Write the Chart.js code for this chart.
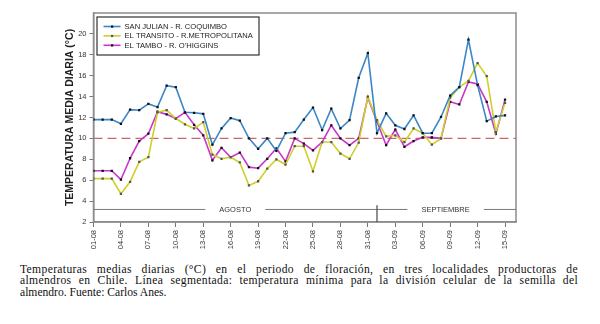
<!DOCTYPE html>
<html>
<head>
<meta charset="utf-8">
<script src="https://cdn.jsdelivr.net/npm/chart.js@4.4.1/dist/chart.umd.min.js"></script>
<style>
  body { margin: 0; background: #fff; width: 600px; height: 324px; overflow: hidden; }
  #wrap { position: relative; width: 600px; height: 258px; }
  .nota { position: absolute; left: 20px; top: 264px; width: 558px; font-family: "Liberation Serif", serif; font-size: 11.6px; line-height: 11.4px; color: #111; }
  .nota div { white-space: nowrap; }
  .nota .j { text-align: justify; text-align-last: justify; white-space: normal; letter-spacing: 0.35px; }
</style>
</head>
<body>
<div id="wrap"><canvas id="graf" width="600" height="258"></canvas></div>
<div class="nota">
  <div class="j">Temperaturas medias diarias (°C) en el periodo de floración, en tres localidades productoras de</div>
  <div class="j">almendros en Chile. Línea segmentada: temperatura mínima para la división celular de la semilla del</div>
  <div>almendro. Fuente: Carlos Anes.</div>
</div>
<script>
var fechas = ["01-08","02-08","03-08","04-08","05-08","06-08","07-08","08-08","09-08","10-08",
  "11-08","12-08","13-08","14-08","15-08","16-08","17-08","18-08","19-08","20-08",
  "21-08","22-08","23-08","24-08","25-08","26-08","27-08","28-08","29-08","30-08",
  "31-08","01-09","02-09","03-09","04-09","05-09","06-09","07-09","08-09","09-09",
  "10-09","11-09","12-09","13-09","14-09","15-09"];

var sanJulian = [11.8, 11.8, 11.8, 11.4, 12.75, 12.7, 13.3, 13.0, 15.05, 14.9,
  12.5, 12.45, 12.35, 9.4, 10.95, 11.95, 11.7, 10.0, 9.0, 10.0,
  8.8, 10.5, 10.6, 11.8, 12.95, 10.8, 12.85, 10.95, 11.75, 15.8,
  18.15, 10.5, 12.4, 11.25, 10.9, 12.2, 10.5, 10.5, 12.05, 14.1,
  14.9, 19.45, 15.1, 11.65, 12.1, 12.2];

var elTransito = [6.15, 6.15, 6.15, 4.7, 5.85, 7.75, 8.2, 12.5, 12.7, 11.9,
  11.35, 10.95, 11.55, 8.45, 8.05, 8.2, 7.7, 5.5, 5.9, 7.1,
  8.0, 7.5, 9.25, 9.25, 6.85, 9.65, 9.65, 8.55, 8.05, 9.6,
  14.0, 11.75, 10.2, 10.3, 9.65, 10.95, 10.5, 9.4, 10.0, 13.9,
  14.9, 15.5, 17.2, 15.95, 10.6, 13.4];

var elTambo = [6.9, 6.9, 6.9, 6.05, 8.1, 9.75, 10.45, 12.55, 12.3, 11.9,
  12.5, 11.3, 10.3, 7.9, 9.1, 8.2, 8.65, 7.25, 7.15, 8.05,
  9.05, 7.8, 10.0, 9.5, 8.85, 9.65, 11.25, 10.0, 9.35, 10.0,
  13.9, 11.6, 9.35, 10.85, 9.2, 9.75, 10.1, 10.1, 10.0, 13.5,
  13.25, 15.4, 15.2, 13.5, 10.45, 13.7];

var umbral = 10;                      // temperatura mínima para división celular
var meses = ["AGOSTO", "SEPTIEMBRE"];
var inicioMes = [0, 31];              // índice del primer día de cada mes

function puntos(serie) {
  return serie.map(function(v, i) { return { x: i, y: v }; });
}

function serie(label, datos, color, marca) {
  return {
    label: label,
    data: puntos(datos),
    borderColor: color,
    borderWidth: 1.6,
    tension: 0,
    pointStyle: 'rect',
    pointRadius: 1.6,
    pointBorderWidth: 0,
    pointBackgroundColor: marca
  };
}

var fuente = "'Liberation Sans', Arial, sans-serif";

// marco, línea de umbral y bandas de meses
var extras = {
  id: 'extras',
  beforeDatasetsDraw: function(chart) {
    var ctx = chart.ctx, ca = chart.chartArea;
    var sx = chart.scales.x, sy = chart.scales.y;
    ctx.save();
    ctx.strokeStyle = '#8c8c8c';
    ctx.lineWidth = 1.5;
    ctx.strokeRect(ca.left, ca.top, ca.right - ca.left, ca.bottom - ca.top);

    var yu = sy.getPixelForValue(umbral);
    ctx.strokeStyle = '#c96868';
    ctx.lineWidth = 1.2;
    ctx.setLineDash([9, 5]);
    ctx.beginPath();
    ctx.moveTo(ca.left, yu);
    ctx.lineTo(ca.right, yu);
    ctx.stroke();
    ctx.setLineDash([]);

    // nombres de mes sobre una línea con huecos
    var ym = sy.getPixelForValue(3.2);
    ctx.font = '7.5px ' + fuente;
    ctx.textAlign = 'center';
    ctx.textBaseline = 'middle';
    ctx.fillStyle = '#333';
    ctx.strokeStyle = '#7a7a7a';
    ctx.lineWidth = 1;
    var x = ca.left;
    meses.forEach(function(m, i) {
      var fin = i + 1 < inicioMes.length ? inicioMes[i + 1] : fechas.length;
      var xc = sx.getPixelForValue((inicioMes[i] + fin) / 2);
      var hw = ctx.measureText(m).width / 2 + 14;
      ctx.beginPath();
      ctx.moveTo(x, ym);
      ctx.lineTo(xc - hw, ym);
      ctx.stroke();
      ctx.fillText(m, xc, ym);
      x = xc + hw;
    });
    ctx.beginPath();
    ctx.moveTo(x, ym);
    ctx.lineTo(ca.right, ym);
    ctx.stroke();

    ctx.strokeStyle = '#555';
    ctx.lineWidth = 1.3;
    for (var k = 1; k < inicioMes.length; k++) {
      var xd = sx.getPixelForValue(inicioMes[k]);
      ctx.beginPath();
      ctx.moveTo(xd, sy.getPixelForValue(3.6));
      ctx.lineTo(xd, ca.bottom);
      ctx.stroke();
    }
    ctx.restore();
  },
  afterDraw: function(chart) {
    var ctx = chart.ctx, ca = chart.chartArea;
    var x0 = ca.left + 3.5, y0 = ca.top + 4, w = 162, h = 38;
    ctx.save();
    ctx.fillStyle = '#fff';
    ctx.fillRect(x0, y0, w, h);
    ctx.strokeStyle = '#333';
    ctx.lineWidth = 1.2;
    ctx.strokeRect(x0, y0, w, h);
    ctx.font = '7.6px ' + fuente;
    ctx.textBaseline = 'middle';
    ctx.textAlign = 'left';
    chart.data.datasets.forEach(function(ds, i) {
      var y = y0 + 9.5 + i * 9.4;
      ctx.strokeStyle = ds.borderColor;
      ctx.lineWidth = 1.6;
      ctx.beginPath();
      ctx.moveTo(x0 + 6.5, y);
      ctx.lineTo(x0 + 23.5, y);
      ctx.stroke();
      ctx.fillStyle = ds.pointBackgroundColor;
      ctx.fillRect(x0 + 14, y - 1, 2.2, 2.2);
      ctx.fillStyle = '#222';
      ctx.fillText(ds.label, x0 + 27.5, y + 0.5);
    });
    ctx.restore();
  }
};

new Chart(document.getElementById('graf'), {
  type: 'line',
  data: {
    datasets: [
      serie('SAN JULIAN - R. COQUIMBO', sanJulian, '#3a86c8', '#111'),
      serie('EL TRANSITO - R.METROPOLITANA', elTransito, '#cfcf2a', '#555'),
      serie('EL TAMBO - R. O\'HIGGINS', elTambo, '#c936c9', '#111')
    ]
  },
  options: {
    responsive: false,
    animation: false,
    layout: { padding: { left: 60, top: 13, right: 84, bottom: 0 } },
    plugins: { legend: { display: false }, tooltip: { enabled: false } },
    scales: {
      x: {
        type: 'linear',
        min: 0,
        max: 46.2,
        afterBuildTicks: function(s) {
          s.ticks = s.ticks.filter(function(t) { return t.value % 3 === 0 && t.value < fechas.length; });
        },
        afterFit: function(s) { s.height = 36; },
        ticks: {
          stepSize: 3,
          autoSkip: false,
          minRotation: 90,
          maxRotation: 90,
          padding: 3,
          color: '#333',
          font: { family: fuente, size: 7.5 },
          callback: function(v) { return fechas[v]; }
        },
        grid: { drawOnChartArea: false, drawTicks: true, tickLength: 5, color: '#777' },
        border: { display: true, color: '#8c8c8c', width: 1.5 }
      },
      y: {
        min: 2,
        max: 22,
        afterBuildTicks: function(s) {
          s.ticks = s.ticks.filter(function(t) { return t.value < 22; });
        },
        afterFit: function(s) { s.width = 33.5; },
        ticks: {
          stepSize: 2,
          padding: 3,
          color: '#333',
          font: { family: fuente, size: 7.5 }
        },
        grid: { drawOnChartArea: false, drawTicks: true, tickLength: 4, color: '#777' },
        border: { display: true, color: '#8c8c8c', width: 1.5 },
        title: {
          display: true,
          text: 'TEMPERATURA MEDIA DIARIA (°C)',
          color: '#222',
          padding: { top: 4, bottom: 0 },
          font: { family: fuente, size: 10.5, weight: 'bold' }
        }
      }
    }
  },
  plugins: [extras]
});
</script>
</body>
</html>
